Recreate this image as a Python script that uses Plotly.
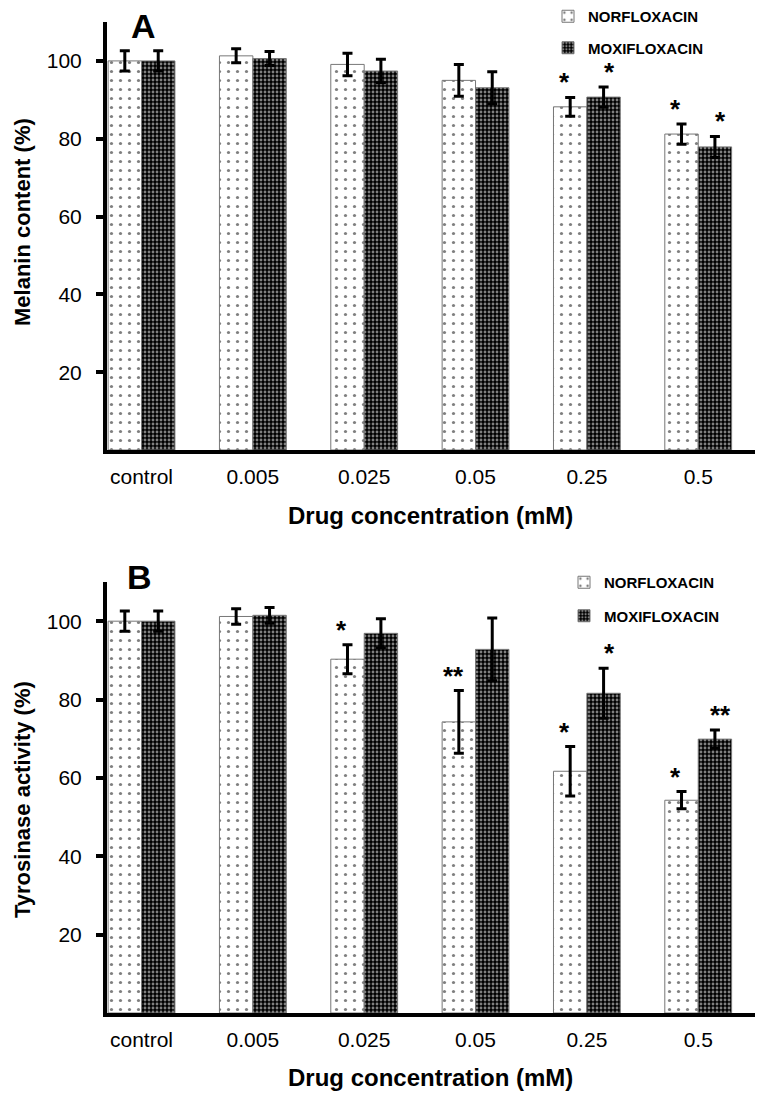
import plotly.graph_objects as go

# categories
conc = ["control", "0.005", "0.025", "0.05", "0.25", "0.5"]

# panel A: melanin content (%)
mel_norf = [100, 101.3, 99.1, 95.0, 88.2, 81.2]
mel_norf_err = [2.6, 1.8, 2.9, 4.1, 2.4, 2.6]
mel_moxi = [100, 100.6, 97.4, 93.1, 90.7, 77.9]
mel_moxi_err = [2.6, 1.8, 3.0, 4.1, 2.6, 2.7]
mel_norf_sig = ["", "", "", "", "*", "*"]
mel_moxi_sig = ["", "", "", "", "*", "*"]

# panel B: tyrosinase activity (%)
tyr_norf = [100, 101.2, 90.3, 74.3, 61.7, 54.3]
tyr_norf_err = [2.6, 2.0, 3.7, 8.0, 6.3, 2.2]
tyr_moxi = [100, 101.5, 96.9, 92.8, 81.6, 69.9]
tyr_moxi_err = [2.6, 2.0, 3.7, 8.0, 6.4, 2.3]
tyr_norf_sig = ["", "", "*", "**", "*", "*"]
tyr_moxi_sig = ["", "", "", "", "*", "**"]

FONT = "Liberation Sans, Arial, sans-serif"
OFF = 8  # page body margin
W, H = 774 - 2 * OFF, 1099 - 2 * OFF
xpos = list(range(len(conc)))


def px(x):
    return (x - OFF) / W


def py(y):
    return 1 - (y - OFF) / H


dots = dict(shape=".", fgcolor="black", bgcolor="white", size=9, solidity=0.1)
checks = dict(shape=".", fgcolor="white", bgcolor="black", size=4, solidity=0.4)


def bar(y, err, name, pattern, xa, ya, legend, group):
    return go.Bar(
        x=xpos, y=y, name=name,
        xaxis=xa, yaxis=ya, legend=legend, legendgroup=group,
        marker=dict(color="white", pattern=pattern,
                    line=dict(color="#777", width=1)),
        error_y=dict(type="data", array=err, color="black",
                     thickness=3, width=5),
    )


fig = go.Figure()
fig.add_trace(bar(mel_norf, mel_norf_err, "NORFLOXACIN", dots, "x", "y", "legend", "a1"))
fig.add_trace(bar(mel_moxi, mel_moxi_err, "MOXIFLOXACIN", checks, "x", "y", "legend", "a2"))
fig.add_trace(bar(tyr_norf, tyr_norf_err, "NORFLOXACIN", dots, "x2", "y2", "legend2", "b1"))
fig.add_trace(bar(tyr_moxi, tyr_moxi_err, "MOXIFLOXACIN", checks, "x2", "y2", "legend2", "b2"))

# significance stars
off = 0.2
annots = []
for xa, ya, vals, errs, sigs, shift in [
    ("x", "y", mel_norf, mel_norf_err, mel_norf_sig, -off),
    ("x", "y", mel_moxi, mel_moxi_err, mel_moxi_sig, off),
    ("x2", "y2", tyr_norf, tyr_norf_err, tyr_norf_sig, -off),
    ("x2", "y2", tyr_moxi, tyr_moxi_err, tyr_moxi_sig, off),
]:
    for i, s in enumerate(sigs):
        if s:
            annots.append(dict(
                x=i + shift, y=vals[i] + errs[i], xref=xa, yref=ya,
                text="<b>" + s + "</b>", showarrow=False,
                xanchor="center", yanchor="bottom", yshift=-2,
                font=dict(family=FONT, size=26, color="black"),
            ))


def label(x, y, text, size, angle=0):
    return dict(x=px(x), y=py(y), xref="paper", yref="paper",
                text=text, textangle=angle, showarrow=False,
                xanchor="center", yanchor="middle",
                font=dict(family=FONT, size=size, color="black"))


# panel letters and axis titles
annots += [
    label(143, 26, "<b>A</b>", 34),
    label(139, 577, "<b>B</b>", 34),
    label(22, 222, "<b>Melanin content (%)</b>", 22, -90),
    label(22, 800, "<b>Tyrosinase activity (%)</b>", 22, -90),
    label(430, 516, "<b>Drug concentration (mM)</b>", 24),
    label(430, 1077, "<b>Drug concentration (mM)</b>", 24),
]

xcommon = dict(
    range=[-0.31, 5.51], tickvals=xpos, ticktext=conc, ticks="",
    showline=True, linecolor="black", linewidth=4, showgrid=False,
    zeroline=False, tickfont=dict(family=FONT, size=21, color="black"),
    ticklabelstandoff=5, layer="below traces",
)
ycommon = dict(
    range=[0, 110], tickvals=[20, 40, 60, 80, 100], ticks="outside",
    ticklen=7, tickwidth=4, tickcolor="black",
    showline=True, linecolor="black", linewidth=4, showgrid=False,
    zeroline=False, tickfont=dict(family=FONT, size=21, color="black"),
    ticklabelstandoff=10,
)
xd = [px(107), px(755)]
legfont = dict(family=FONT, size=15, color="black", weight="bold")

fig.update_layout(
    width=W, height=H,
    margin=dict(l=0, r=0, t=0, b=0, autoexpand=False),
    paper_bgcolor="white", plot_bgcolor="white",
    barmode="group", bargap=0.4, bargroupgap=0,
    xaxis=dict(xcommon, domain=xd, anchor="y"),
    yaxis=dict(ycommon, domain=[py(450), py(22)], anchor="x"),
    xaxis2=dict(xcommon, domain=xd, anchor="y2"),
    yaxis2=dict(ycommon, domain=[py(1013), py(582)], anchor="x2"),
    legend=dict(x=px(548), y=py(0), xanchor="left", yanchor="top",
                bgcolor="rgba(0,0,0,0)", tracegroupgap=9, font=legfont),
    legend2=dict(x=px(564), y=py(566), xanchor="left", yanchor="top",
                 bgcolor="rgba(0,0,0,0)", tracegroupgap=11, font=legfont),
    annotations=annots,
    showlegend=True,
)

fig.write_html("out.html")
